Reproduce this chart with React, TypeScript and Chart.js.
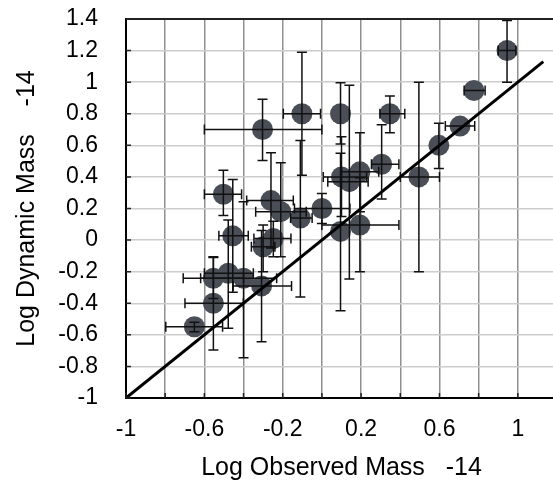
import React, { useEffect, useRef } from "react";
import { Chart, registerables } from "chart.js";

Chart.register(...registerables);

// Observed (x) and dynamic (y) log masses, with error-bar bounds (null = no bar)
const obsX = [0.945, 0.776, 0.705, 0.597, 0.495, 0.347, 0.095, -0.102, -0.303, -0.503, -0.455, -0.26, -0.21, -0.11, 0.0, 0.095, 0.1, 0.14, 0.194, 0.194, 0.305, -0.3, -0.248, -0.308, -0.554, -0.478, -0.4, -0.554, -0.651];
const dynY = [1.2, 0.947, 0.722, 0.6, 0.4, 0.8, 0.8, 0.8, 0.7, 0.29, 0.027, 0.25, 0.18, 0.14, 0.2, 0.055, 0.4, 0.37, 0.432, 0.095, 0.48, -0.042, 0.01, -0.29, -0.242, -0.21, -0.242, -0.4, -0.549];
const xLow = [0.9, 0.726, 0.63, null, 0.4, 0.296, null, -0.197, -0.6, -0.6, -0.526, -0.384, -0.338, -0.16, -0.14, null, 0.007, 0.03, 0.1, 0.0, 0.253, -0.36, -0.347, -0.453, -0.708, -0.6, -0.619, -0.699, -0.797];
const xHigh = [0.99, 0.833, 0.78, null, 0.6, 0.423, null, -0.007, 0.0, -0.41, -0.376, -0.146, -0.08, -0.05, 0.143, null, 0.228, 0.236, 0.29, 0.393, 0.393, -0.24, -0.158, -0.155, -0.4, -0.35, -0.231, -0.401, -0.507];
const yLow = [1.0, null, null, 0.454, -0.2, 0.68, 0.608, 0.41, 0.504, 0.156, -0.33, -0.05, -0.106, -0.36, 0.105, -0.447, 0.15, -0.247, 0.18, -0.2, 0.26, -0.2, -0.106, -0.644, -0.37, -0.559, -0.745, -0.696, -0.58];
const yHigh = [1.39, null, null, 0.74, 1.0, 0.913, 0.996, 1.19, 0.892, 0.443, 0.384, 0.553, 0.49, 0.63, 0.295, 0.55, 0.654, 0.98, 0.68, 0.395, 0.73, 0.095, 0.12, 0.06, -0.11, 0.127, 0.242, -0.106, -0.52];

// 1:1 reference line
const lineX = [-1, 1.13];

const xTitle = "Log Observed Mass   -14";
const yTitle = "Log Dynamic Mass    -14";

const fmt = (v: number) => String(Math.round(v * 10) / 10);

const decorPlugin = {
  id: "decor",
  afterDatasetDraw(chart: any, args: any) {
    if (args.index !== 1) return;
    const { ctx } = chart;
    const xs = chart.scales.x;
    const ys = chart.scales.y;
    const cap = 5;
    ctx.save();
    ctx.strokeStyle = "#111";
    ctx.lineWidth = 1.5;
    for (let i = 0; i < obsX.length; i++) {
      const px = xs.getPixelForValue(obsX[i]);
      const py = ys.getPixelForValue(dynY[i]);
      if (yLow[i] !== null && yHigh[i] !== null) {
        const a = ys.getPixelForValue(yLow[i] as number);
        const b = ys.getPixelForValue(yHigh[i] as number);
        ctx.beginPath();
        ctx.moveTo(px, a);
        ctx.lineTo(px, b);
        ctx.moveTo(px - cap, a);
        ctx.lineTo(px + cap, a);
        ctx.moveTo(px - cap, b);
        ctx.lineTo(px + cap, b);
        ctx.stroke();
      }
      if (xLow[i] !== null && xHigh[i] !== null) {
        const a = xs.getPixelForValue(xLow[i] as number);
        const b = xs.getPixelForValue(xHigh[i] as number);
        ctx.beginPath();
        ctx.moveTo(a, py);
        ctx.lineTo(b, py);
        ctx.moveTo(a, py - cap);
        ctx.lineTo(a, py + cap);
        ctx.moveTo(b, py - cap);
        ctx.lineTo(b, py + cap);
        ctx.stroke();
      }
    }
    ctx.restore();
  },
  afterDraw(chart: any) {
    const { ctx, chartArea } = chart;
    const xs = chart.scales.x;
    const ys = chart.scales.y;
    ctx.save();
    ctx.strokeStyle = "#222";
    ctx.lineWidth = 1.5;
    ctx.beginPath();
    ys.ticks.forEach((t: any) => {
      const p = ys.getPixelForValue(t.value);
      ctx.moveTo(chartArea.left, p);
      ctx.lineTo(chartArea.left + 5, p);
    });
    xs.ticks.forEach((t: any) => {
      const p = xs.getPixelForValue(t.value);
      ctx.moveTo(p, chartArea.bottom);
      ctx.lineTo(p, chartArea.bottom - 5);
    });
    ctx.stroke();
    ctx.lineWidth = 2;
    ctx.beginPath();
    ctx.moveTo(chartArea.left, chartArea.top);
    ctx.lineTo(chartArea.right, chartArea.top);
    ctx.stroke();
    ctx.restore();
  },
};

export default function App() {
  const ref = useRef<HTMLCanvasElement>(null);
  useEffect(() => {
    if (!ref.current) return;
    const font = "'Liberation Sans', Arial, Helvetica, sans-serif";
    const chart = new Chart(ref.current, {
      type: "scatter",
      data: {
        datasets: [
          {
            type: "line",
            data: lineX.map((v) => ({ x: v, y: v })),
            borderColor: "#000",
            borderWidth: 3,
            pointRadius: 0,
            fill: false,
          } as any,
          {
            data: obsX.map((x, i) => ({ x, y: dynY[i] })),
            backgroundColor: "#4a4f57",
            borderWidth: 0,
            pointRadius: 10.5,
            pointHoverRadius: 10.5,
          },
        ],
      },
      options: {
        animation: false,
        responsive: false,
        layout: { autoPadding: false, padding: { top: 19, right: 3, left: 0, bottom: 0 } },
        plugins: { legend: { display: false }, tooltip: { enabled: false } },
        scales: {
          x: {
            type: "linear",
            min: -1,
            max: 1.2,
            afterFit: (s: any) => {
              s.height = 87;
              s.paddingLeft = 0;
              s.paddingRight = 0;
            },
            ticks: {
              stepSize: 0.2,
              autoSkip: false,
              maxRotation: 0,
              padding: 18,
              color: "#000",
              font: { family: font, size: 23 },
              callback: (v: any) => {
                const k = Math.round((Number(v) + 1) * 10);
                return k % 4 === 0 ? fmt(Number(v)) : "";
              },
            },
            grid: { color: "#909090", lineWidth: 1.5, drawTicks: false },
            border: { color: "#000", width: 2 },
            title: {
              display: true,
              text: xTitle,
              color: "#000",
              font: { family: font, size: 25, weight: "normal" },
              padding: { top: 0, bottom: 2 },
            },
          },
          y: {
            type: "linear",
            min: -1,
            max: 1.4,
            afterFit: (s: any) => {
              s.width = 126;
              s.paddingTop = 0;
              s.paddingBottom = 0;
            },
            ticks: {
              stepSize: 0.2,
              autoSkip: false,
              padding: 28,
              color: "#000",
              font: { family: font, size: 23 },
              callback: (v: any) => fmt(Number(v)),
            },
            grid: { color: "#ccc", lineWidth: 1.5, drawTicks: false },
            border: { color: "#000", width: 2 },
            title: {
              display: true,
              text: yTitle,
              color: "#000",
              font: { family: font, size: 25, weight: "normal" },
              padding: { top: 12, bottom: 0 },
            },
          },
        },
      },
      plugins: [decorPlugin],
    });
    return () => chart.destroy();
  }, []);
  return (
    <div style={{ position: "absolute", left: 0, top: 0, width: 553, height: 485, overflow: "hidden" }}>
      <canvas ref={ref} width={560} height={485} style={{ display: "block" }} />
    </div>
  );
}
